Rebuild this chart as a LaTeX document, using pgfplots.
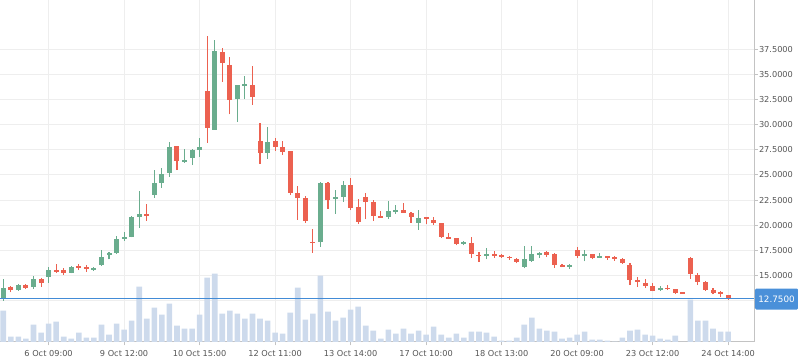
\documentclass[border=0pt]{standalone}
\usepackage{pgfplots}
\usepackage{pgfplotstable}
\pgfplotsset{compat=1.18}
\usepackage{fontspec}
\setmainfont{DejaVu Sans}
\definecolor{cgreen}{RGB}{106,173,142}
\definecolor{cred}{RGB}{236,97,80}
\definecolor{volblue}{RGB}{205,218,236}
\definecolor{pline}{RGB}{66,139,214}
\definecolor{pbox}{RGB}{74,144,217}
\definecolor{gridgray}{RGB}{238,238,238}
\definecolor{axisgray}{RGB}{195,195,195}
\definecolor{labelgray}{RGB}{85,85,85}
\pgfplotstableread{
i o h l c v
0 12.64 14.66 12.50 13.79 31.3
1 13.84 14.00 13.34 13.57 5.3
2 13.57 14.16 13.50 14.06 5.3
3 14.06 14.16 13.64 13.77 3.3
4 13.84 14.96 13.67 14.66 17.3
5 14.69 14.76 13.90 14.26 9.3
6 14.89 15.88 14.30 15.55 18.3
7 15.55 16.15 15.29 15.42 20.3
8 15.55 15.72 15.06 15.28 5.3
9 15.28 15.92 15.22 15.82 3.3
10 15.95 16.15 15.55 15.82 9.3
11 15.88 16.05 15.39 15.62 4.3
12 15.62 15.88 15.48 15.75 4.3
13 16.05 17.54 15.98 16.80 17.3
14 17.04 17.37 16.61 17.27 7.3
15 17.27 18.93 17.14 18.60 18.3
16 18.63 19.30 18.46 18.86 12.3
17 18.86 20.95 18.80 20.85 21.3
18 20.85 23.43 19.75 21.11 55.3
19 21.11 22.11 20.45 21.01 23.3
20 23.03 25.48 22.73 24.19 34.3
21 24.16 25.68 23.70 25.09 27.3
22 25.16 28.26 24.82 27.77 38.3
23 27.87 27.90 25.48 26.41 16.3
24 26.34 27.56 26.20 26.51 13.3
25 26.70 27.57 25.98 27.47 13.3
26 27.47 28.66 26.80 27.77 27.3
27 33.33 38.79 28.20 29.68 64.3
28 29.49 38.39 29.49 37.30 68.3
29 37.17 37.60 34.25 36.14 28.3
30 35.91 36.71 31.02 32.47 31.3
31 32.53 33.93 30.28 33.93 28.3
32 33.86 34.82 32.53 33.96 23.3
33 33.93 35.84 31.97 32.76 28.3
34 28.36 30.15 26.11 27.20 23.3
35 27.20 29.78 26.61 28.26 21.3
36 28.36 28.66 27.40 27.80 9.3
37 27.77 28.36 27.00 27.30 8.3
38 27.37 27.40 22.99 23.23 29.3
39 23.20 23.89 20.52 22.70 54.3
40 22.70 22.90 20.25 20.45 22.3
41 18.33 19.62 17.27 18.27 28.3
42 18.37 24.29 17.87 24.19 66.3
43 24.19 24.29 21.64 22.54 30.3
44 22.63 23.50 21.14 22.80 21.3
45 22.83 24.39 22.34 23.99 24.3
46 23.99 24.69 21.51 21.74 32.3
47 21.78 22.57 20.15 20.29 35.3
48 22.77 23.20 20.58 22.34 16.3
49 22.31 22.50 20.45 20.95 11.3
50 20.85 21.41 20.78 20.80 3.3
51 20.85 22.41 20.65 21.38 12.3
52 21.41 21.98 21.15 21.51 8.3
53 21.51 22.24 21.24 21.24 13.3
54 21.24 21.30 20.25 20.85 8.3
55 20.25 21.51 19.53 20.72 11.3
56 20.82 20.85 20.09 20.59 7.3
57 20.52 20.82 20.05 20.19 15.3
58 20.19 20.25 18.76 18.86 7.3
59 18.76 19.26 18.63 18.66 4.3
60 18.73 18.76 18.00 18.17 8.3
61 18.21 18.46 18.00 18.27 4.3
62 18.23 18.80 16.77 17.11 10.3
63 17.05 17.38 16.38 16.98 10.3
64 16.94 17.70 16.61 17.14 9.3
65 17.14 17.47 16.77 16.98 5.3
66 17.01 17.14 16.77 16.91 1.3
67 16.87 16.97 16.55 16.77 1.3
68 16.67 16.74 16.22 16.32 4.3
69 15.88 17.93 15.72 16.65 17.3
70 16.48 17.93 16.38 17.14 24.3
71 17.07 17.34 16.74 17.21 13.3
72 17.31 17.44 16.87 17.04 11.3
73 17.17 17.24 15.75 16.05 10.3
74 16.02 16.18 15.82 15.95 3.3
75 15.85 16.12 15.68 16.05 4.3
76 17.51 17.87 16.72 16.97 7.3
77 16.97 17.51 16.41 17.17 10.3
78 17.14 17.14 16.61 16.77 2.3
79 16.77 17.21 16.72 16.91 2.3
80 16.94 16.94 16.55 16.77 1.3
81 16.77 16.94 16.48 16.68 0.3
82 16.65 16.78 16.15 16.28 4.3
83 16.02 16.25 14.06 14.56 11.3
84 14.56 14.83 13.87 14.33 12.3
85 14.26 14.63 13.74 13.99 7.3
86 13.96 14.29 13.44 13.50 6.3
87 13.60 13.93 13.46 13.77 3.3
88 13.80 14.07 13.54 13.67 2.3
89 13.64 13.65 13.20 13.30 6.3
90 13.34 13.34 13.24 13.25 0
91 16.71 16.88 14.69 15.13 42.3
92 15.06 15.28 14.06 14.39 21.3
93 14.39 14.49 13.46 13.57 21.3
94 13.60 13.80 13.14 13.30 13.3
95 13.34 13.47 12.91 13.17 10.3
96 13.07 13.07 12.55 12.75 10.3
}\candles
\begin{document}
\begin{tikzpicture}[x=1pt,y=1pt]
\useasboundingbox (0,0) rectangle (798,363);
\begin{axis}[
  at={(0pt,21pt)}, anchor=south west, scale only axis,
  width=754.3pt, height=342pt,
  xmin=-0.437, xmax=99.47, ymin=8.40, ymax=42.37,
  axis x line*=bottom, axis y line*=right,
  axis line style={draw=axisgray, line width=1pt, -},
  xtick={6,16,...,96},
  xticklabels={{6 Oct 09:00},{9 Oct 12:00},{10 Oct 15:00},{12 Oct 11:00},{13 Oct 14:00},{17 Oct 10:00},{18 Oct 13:00},{20 Oct 09:00},{23 Oct 12:00},{24 Oct 14:00}},
  ytick={15,17.5,20,22.5,25,27.5,30,32.5,35,37.5},
  extra y ticks={12.5}, extra y tick labels={},
  extra y tick style={grid=major, major tick length=0pt},
  tick align=outside, major tick length=3.5pt,
  tick style={draw=axisgray, line width=1pt},
  grid=major, grid style={draw=gridgray, line width=1pt},
  tick label style={font=\fontsize{8.2}{9}\selectfont, text=labelgray},
  /pgf/number format/assume math mode=true,
  yticklabel={\pgfmathprintnumber[fixed,fixed zerofill,precision=4]{\tick}},
  yticklabel style={inner sep=1pt},
  xticklabel style={yshift=-1pt},
]
% volume
\addplot[ybar, bar width=5.6pt, fill=volblue, draw=none, forget plot]
  table[x=i, y expr={8.40+\thisrow{v}/10.07}] \candles;
% green wicks
\addplot[draw=none, mark=none, forget plot,
  restrict expr to domain={\thisrow{c}-\thisrow{o}}{0:1000},
  error bars/.cd, y dir=plus, y explicit, error mark=none,
  error bar style={draw=cgreen, line width=1.1pt}]
  table[x=i, y=l, y error plus expr={\thisrow{h}-\thisrow{l}}] \candles;
% red wicks
\addplot[draw=none, mark=none, forget plot,
  restrict expr to domain={\thisrow{o}-\thisrow{c}}{0:1000},
  error bars/.cd, y dir=plus, y explicit, error mark=none,
  error bar style={draw=cred, line width=1.1pt}]
  table[x=i, y=l, y error plus expr={\thisrow{h}-\thisrow{l}}] \candles;
% green bodies
\addplot[draw=none, mark=none, forget plot,
  restrict expr to domain={\thisrow{c}-\thisrow{o}}{0:1000},
  error bars/.cd, y dir=both, y explicit, error mark=none,
  error bar style={draw=cgreen, line width=5pt}]
  table[x=i, y expr={(\thisrow{o}+\thisrow{c})/2}, y error expr={max(abs(\thisrow{c}-\thisrow{o})/2,0.07)}] \candles;
% red bodies
\addplot[draw=none, mark=none, forget plot,
  restrict expr to domain={\thisrow{o}-\thisrow{c}}{0:1000},
  error bars/.cd, y dir=both, y explicit, error mark=none,
  error bar style={draw=cred, line width=5pt}]
  table[x=i, y expr={(\thisrow{o}+\thisrow{c})/2}, y error expr={max(abs(\thisrow{c}-\thisrow{o})/2,0.07)}] \candles;
% current price line
\addplot[pline, line width=1pt, forget plot] coordinates {(-0.437,12.75) (99.47,12.75)};
\coordinate (pl) at (axis cs:99.47,12.75);
\end{axis}
\node[fill=pbox, text=white, rounded corners=1.5pt, anchor=west, minimum width=43.5pt, minimum height=21pt, inner sep=0pt, font=\fontsize{8.8}{10}\selectfont, yshift=-0.8pt] at ([xshift=0.3pt]pl) {12.7500};
\end{tikzpicture}
\end{document}
